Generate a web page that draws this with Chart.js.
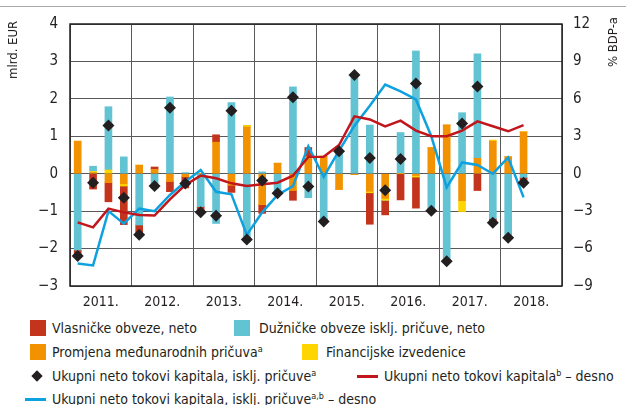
<!DOCTYPE html>
<html lang="hr">
<head>
  <meta charset="UTF-8" />
  <title>Neto tokovi kapitala</title>
  <script src="https://cdn.jsdelivr.net/npm/chart.js"></script>
  <style>
    body {
      margin: 0;
      width: 626px;
      height: 405px;
      background: #fff;
      color: #231f20;
      font-family: "Liberation Sans Narrow", "DejaVu Sans Condensed", sans-serif;
      position: relative;
      overflow: hidden;
    }
    .topline {
      position: absolute; left: 0; top: 6px; width: 626px; height: 1px; background: #a7a9ac;
    }
    .chart-box {
      position: absolute; left: 0; top: 2px; width: 626px; height: 312px;
    }
    .axis-title {
      position: absolute; font-size: 13px; white-space: nowrap;
      transform-origin: left top; transform: rotate(-90deg);
    }
    .legend {
      position: absolute; left: 0; top: 317px; width: 626px; font-size: 14px;
    }
    .item {
      position: absolute; white-space: nowrap; height: 18px; line-height: 18px;
    }
    .item sup { font-size: 9px; vertical-align: 5px; line-height: 0; }
    .sq { position: absolute; width: 16px; height: 16px; top: 1px; }
    .ln { position: absolute; height: 3px; top: 8px; }
    .dm { position: absolute; width: 8px; height: 8px; top: 5px; background: #231f20; transform: rotate(45deg); }
  </style>
</head>
<body>
  <div class="topline"></div>
  <div class="chart-box"><canvas id="flows" width="626" height="312"></canvas></div>
  <div class="axis-title" style="left:5px; top:79px;">mlrd. EUR</div>
  <div class="axis-title" style="left:605px; top:67px;">% BDP-a</div>

  <div class="legend">
    <div class="item" style="left:30px; top:2px;"><span class="sq" style="left:0; background:#c4341d;"></span><span style="margin-left:22px;">Vlasničke obveze, neto</span></div>
    <div class="item" style="left:234px; top:2px;"><span class="sq" style="left:0; background:#62c3d3;"></span><span style="margin-left:25px;">Dužničke obveze isklj. pričuve, neto</span></div>
    <div class="item" style="left:30px; top:26px;"><span class="sq" style="left:0; background:#f39200;"></span><span style="margin-left:22px;">Promjena međunarodnih pričuva<sup>a</sup></span></div>
    <div class="item" style="left:302px; top:26px;"><span class="sq" style="left:0; background:#ffd500;"></span><span style="margin-left:24px;">Financijske izvedenice</span></div>
    <div class="item" style="left:30px; top:50px;"><span class="dm" style="left:3px;"></span><span style="margin-left:22px;">Ukupni neto tokovi kapitala, isklj. pričuve<sup>a</sup></span></div>
    <div class="item" style="left:357px; top:50px;"><span class="ln" style="left:0; width:21px; background:#c1161c;"></span><span style="margin-left:27px;">Ukupni neto tokovi kapitala<sup>b</sup> – desno</span></div>
    <div class="item" style="left:25px; top:73px;"><span class="ln" style="left:0; width:21px; background:#0ea1e0;"></span><span style="margin-left:27px;">Ukupni neto tokovi kapitala, isklj. pričuve<sup>a,b</sup> – desno</span></div>
  </div>

  <script>
    // quarters 2011 Q1 – 2018 Q4 (data runs to 2018 Q2)
    const quarters = [
      '2011 Q1', '2011 Q2', '2011 Q3', '2011 Q4',
      '2012 Q1', '2012 Q2', '2012 Q3', '2012 Q4',
      '2013 Q1', '2013 Q2', '2013 Q3', '2013 Q4',
      '2014 Q1', '2014 Q2', '2014 Q3', '2014 Q4',
      '2015 Q1', '2015 Q2', '2015 Q3', '2015 Q4',
      '2016 Q1', '2016 Q2', '2016 Q3', '2016 Q4',
      '2017 Q1', '2017 Q2', '2017 Q3', '2017 Q4',
      '2018 Q1', '2018 Q2', '2018 Q3', '2018 Q4'
    ];
    const years = ['2011.', '2012.', '2013.', '2014.', '2015.', '2016.', '2017.', '2018.'];

    // bars, mlrd. EUR
    const equity = [-0.16, -0.41, -0.51, -1.03, -0.25, 0.07, -0.28, -0.30, -0.15, 0.20, -0.20, 0,
      -0.24, 0, -0.27, 0.25, -0.08, 0, 0, -0.84, -0.39, -0.70, -0.83, -0.06, 0, 0, -0.45, -0.12, 0, -0.14];
    const debt = [-2.04, 0.14, 1.69, 0.45, -1.37, -0.40, 2.05, 0.03, -0.88, -1.33, 1.90, -1.82,
      0.05, -0.53, 2.32, -0.64, -1.20, 0.60, 2.65, 1.30, 0, 1.10, 3.28, -0.93, -2.35, 1.63, 2.79, -1.20, -1.72, -0.10];
    const reserves = [0.87, 0.03, -0.24, -0.27, 0.23, 0.11, -0.20, -0.08, 0, 0.84, -0.30, 1.25,
      -0.82, 0.28, -0.44, 0.41, 0.47, -0.42, -0.02, -0.47, -0.66, 0, -0.05, 0.70, 1.30, -0.72, 0.41, 0.87, 0.45, 1.12];
    const derivatives = [0, 0.03, 0.10, -0.06, 0, 0, 0, 0, 0, 0, 0, 0.04,
      0, 0, 0, 0.04, 0, 0, 0, -0.04, -0.05, 0, -0.04, 0, 0, -0.29, 0, 0.03, 0, 0];

    // diamonds, mlrd. EUR
    const totalExclRes = [-2.20, -0.24, 1.29, -0.64, -1.63, -0.33, 1.76, -0.26, -1.03, -1.12, 1.68, -1.76,
      -0.18, -0.52, 2.04, -0.34, -1.28, 0.60, 2.64, 0.42, -0.44, 0.39, 2.41, -0.99, -2.34, 1.34, 2.33, -1.31, -1.71, -0.24];

    // lines, % BDP-a (right axis)
    const totalPctGdp = [-3.9, -4.3, -2.8, -3.1, -3.3, -3.35, -2.05, -0.9, -0.15, -0.37, -0.77, -0.99,
      -0.85, -0.72, -0.16, 1.35, 1.36, 2.3, 4.6, 4.35, 3.8, 4.25, 3.45, 3.0, 3.0, 3.45, 4.2, 3.8, 3.4, 3.9];
    const exclResPctGdp = [-7.2, -7.35, -3.0, -4.0, -2.8, -3.0, -1.7, -0.65, 0.3, -1.45, -1.65, -4.9,
      -3.1, -1.7, -1.0, 2.2, -0.25, 1.85, 3.85, 5.45, 7.15, 6.6, 5.95, 3.0, -1.1, 0.9, 0.7, 0.0, 1.3, -1.9];

    const FONT = '"Liberation Sans Narrow", "DejaVu Sans Condensed", sans-serif';
    const minus = v => String(v).replace('-', '\u2212');

    // frame round the plot area
    const frame = {
      id: 'frame',
      beforeDatasetsDraw(chart) {
        const a = chart.chartArea, c = chart.ctx;
        c.save();
        c.strokeStyle = '#231f20';
        c.lineWidth = 1.5;
        c.strokeRect(a.left, a.top, a.right - a.left, a.bottom - a.top);
        c.restore();
      }
    };

    const bar = (label, data, color) => ({
      type: 'bar', label, data, backgroundColor: color, barThickness: 7,
      stack: 'flows', yAxisID: 'y', xAxisID: 'x', order: 3
    });

    new Chart(document.getElementById('flows'), {
      data: {
        labels: quarters,
        datasets: [
          bar('Promjena međunarodnih pričuva', reserves, '#f39200'),
          bar('Financijske izvedenice', derivatives, '#ffd500'),
          bar('Dužničke obveze isklj. pričuve, neto', debt, '#62c3d3'),
          bar('Vlasničke obveze, neto', equity, '#c4341d'),
          {
            type: 'line', label: 'Ukupni neto tokovi kapitala – desno', data: totalPctGdp,
            yAxisID: 'y2', borderColor: '#c1161c', borderWidth: 2.5, pointRadius: 0,
            tension: 0, order: 2
          },
          {
            type: 'line', label: 'Ukupni neto tokovi kapitala, isklj. pričuve – desno', data: exclResPctGdp,
            yAxisID: 'y2', borderColor: '#0ea1e0', borderWidth: 2.5, pointRadius: 0,
            tension: 0, order: 2
          },
          {
            type: 'line', label: 'Ukupni neto tokovi kapitala, isklj. pričuve', data: totalExclRes,
            yAxisID: 'y', stack: 'diamonds', showLine: false, pointStyle: 'rectRot',
            pointRadius: 6, backgroundColor: '#231f20', borderColor: '#231f20', borderWidth: 0, order: 1
          }
        ]
      },
      options: {
        responsive: false,
        animation: false,
        layout: { padding: { top: 22, left: 0, right: 0, bottom: 0 } },
        plugins: { legend: { display: false }, tooltip: { enabled: false } },
        scales: {
          x: {
            display: false, stacked: true, offset: true
          },
          years: {
            type: 'category', labels: years, position: 'bottom', offset: true,
            grid: { offset: true, color: '#58595b', lineWidth: 1, drawTicks: false },
            border: { display: false },
            ticks: { color: '#231f20', font: { family: FONT, size: 14 }, padding: 8, maxRotation: 0 },
            afterFit: s => { s.height = 28; }
          },
          y: {
            stacked: true, min: -3, max: 4,
            ticks: { stepSize: 1, color: '#231f20', font: { family: FONT, size: 15 }, padding: 12, callback: minus },
            grid: { color: '#58595b', lineWidth: 1, drawTicks: false },
            border: { display: false },
            afterFit: s => { s.width = 70; }
          },
          y2: {
            position: 'right', min: -9, max: 12,
            ticks: { stepSize: 3, color: '#231f20', font: { family: FONT, size: 15 }, padding: 11, callback: minus },
            grid: { drawOnChartArea: false, drawTicks: false },
            border: { display: false },
            afterFit: s => { s.width = 64; }
          }
        }
      },
      plugins: [frame]
    });
  </script>
</body>
</html>
